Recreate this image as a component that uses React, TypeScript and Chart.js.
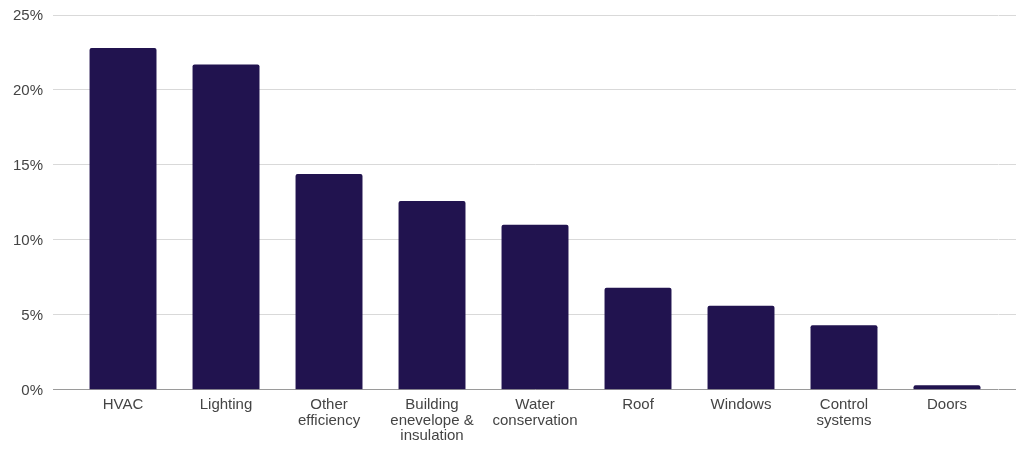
import React, { useEffect, useRef } from "react";
import { Chart, registerables } from "chart.js";

Chart.register(...registerables);

const categories: (string | string[])[] = [
  "HVAC",
  "Lighting",
  ["Other", "efficiency"],
  ["Building", "enevelope &", "insulation"],
  ["Water", "conservation"],
  "Roof",
  "Windows",
  ["Control", "systems"],
  "Doors",
];
const shareValues = [22.8, 21.7, 14.4, 12.6, 11.0, 6.8, 5.6, 4.3, 0.3];
const yTicks = [0, 5, 10, 15, 20, 25];

const BAR_COLOR = "#21134f";
const GRID = "#d9d9d9";
const ZERO = "#9a9a9a";
const FONT = "'Liberation Sans', Arial, sans-serif";

export default function App() {
  const ref = useRef<HTMLCanvasElement>(null);
  useEffect(() => {
    if (!ref.current) return;
    const gridColor = (ctx: any) => (ctx.tick && ctx.tick.value === 0 ? ZERO : GRID);
    const chart = new Chart(ref.current, {
      type: "bar",
      data: {
        labels: categories as any,
        datasets: [
          {
            data: shareValues,
            backgroundColor: BAR_COLOR,
            borderRadius: { topLeft: 2, topRight: 2 },
            borderSkipped: "bottom",
            categoryPercentage: 1,
            barPercentage: 0.65,
          },
        ],
      },
      options: {
        animation: false,
        responsive: true,
        maintainAspectRatio: false,
        layout: { padding: { left: 3, right: 7, top: 15, bottom: -2 } },
        plugins: { legend: { display: false }, tooltip: { enabled: false } },
        scales: {
          x: {
            grid: { display: false, drawTicks: false },
            border: { display: false },
            ticks: {
              color: "#444",
              font: { family: FONT, size: 15, lineHeight: 1.05 },
              padding: 7,
              maxRotation: 0,
              autoSkip: false,
            },
          },
          y: {
            position: "left",
            min: 0,
            max: 25,
            afterBuildTicks: (s: any) => {
              s.ticks = yTicks.map((v) => ({ value: v }));
            },
            grid: { color: gridColor, tickLength: 18.5, lineWidth: 1 },
            border: { display: false },
            ticks: {
              color: "#444",
              font: { family: FONT, size: 15, lineHeight: 0.2 },
              padding: 10,
              labelOffset: 1,
              callback: (v: any) => v + "%",
            },
          },
          y2: {
            position: "right",
            min: 0,
            max: 25,
            afterBuildTicks: (s: any) => {
              s.ticks = yTicks.map((v) => ({ value: v }));
            },
            grid: { color: gridColor, tickLength: 17.5, drawOnChartArea: false, lineWidth: 1 },
            border: { display: false },
            ticks: { display: false },
          },
        },
      },
    });
    return () => chart.destroy();
  }, []);
  return (
    <div style={{ position: "fixed", left: 0, top: 0, width: 1023, height: 449, background: "#fff" }}>
      <canvas ref={ref} />
    </div>
  );
}
